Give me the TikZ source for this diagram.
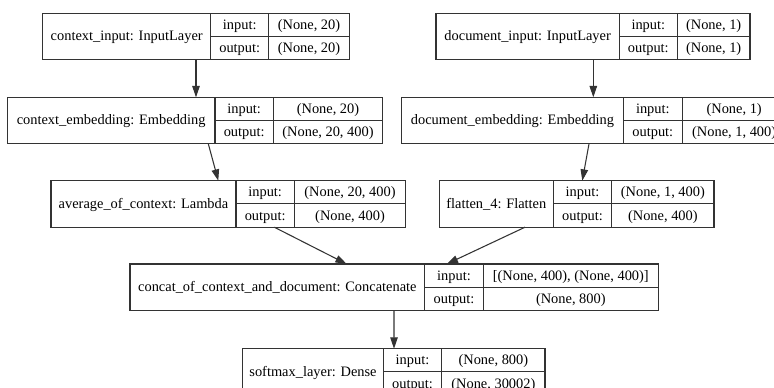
\documentclass[tikz,border=0pt]{standalone}
\usepackage{fontspec}
\setmainfont{Liberation Serif}
\newfontfamily\layerfont{Liberation Serif}
\usetikzlibrary{arrows.meta,calc,fit}

\tikzset{
  x=0.75pt, y=-0.75pt,
  rule/.style={draw=black!80, line width=0.8pt},
  frame/.style={rule, inner sep=0pt, outer sep=0pt},
  txt/.style={inner sep=0pt, anchor=base, text=black,
              font=\layerfont\fontsize{10.8}{13}\selectfont},
  arr/.style={rule, -{Triangle[length=8.5pt,width=5.6pt]}},
}

% record-shaped layer: name, left, first divider, second divider, right,
% top, layer label, input shape, output shape (box height is fixed)
\newcommand\layerbox[9]{%
  \coordinate (#1-nw) at (#2,#6);
  \coordinate (#1-se) at (#5,{#6+46.5});
  \node[frame, fit=(#1-nw)(#1-se)] (#1) {};
  \draw[rule] (#3,#6) -- (#3,{#6+46.5});
  \draw[rule] (#4,#6) -- (#4,{#6+46.5});
  \draw[rule] (#3,{#6+23.25}) -- (#5,{#6+23.25});
  \node[txt] (#1-label) at ({(#2+#3)/2},{#6+27.5}) {#7};
  \node[txt] (#1-inkey) at ({(#3+#4)/2},{#6+16.2}) {input:};
  \node[txt] (#1-inval) at ({(#4+#5)/2},{#6+16.2}) {#8};
  \node[txt] (#1-outkey) at ({(#3+#4)/2},{#6+39.3}) {output:};
  \node[txt] (#1-outval) at ({(#4+#5)/2},{#6+39.3}) {#9};
}

\begin{document}
\begin{tikzpicture}
\useasboundingbox (0,0) rectangle (774,387);
\fill[white] (0,0) rectangle (774,387);
\clip (0,0) rectangle (774,387);

\layerbox{ci}{42.7}{210.7}{268.7}{349.3}{13.3}{context\_input: InputLayer}{(None, 20)}{(None, 20)}
\layerbox{di}{436}{619.3}{677.3}{750}{13.3}{document\_input: InputLayer}{(None, 1)}{(None, 1)}
\layerbox{ce}{7.3}{215}{273.3}{382.7}{97.3}{context\_embedding: Embedding}{(None, 20)}{(None, 20, 400)}
\layerbox{de}{401.7}{623.3}{682.3}{786}{97.3}{document\_embedding: Embedding}{(None, 1)}{(None, 1, 400)}
\layerbox{avg}{51}{236}{294.3}{405.7}{180.7}{average\_of\_context: Lambda}{(None, 20, 400)}{(None, 400)}
\layerbox{fl}{439.3}{553.3}{611.7}{714}{180.7}{flatten\_4: Flatten}{(None, 1, 400)}{(None, 400)}
\layerbox{cat}{130}{424.7}{483.3}{658.3}{264}{concat\_of\_context\_and\_document: Concatenate}{[(None, 400), (None, 400)]}{(None, 800)}
\layerbox{sm}{242.7}{383.3}{441.7}{545}{348.7}{softmax\_layer: Dense}{(None, 800)}{(None, 30002)}

% data flow between layers
\draw[arr] ($(ci.south west)+(153.3,0)$) -- ($(ce.north west)+(188.7,0)$);
\draw[arr] ($(di.south west)+(157.3,0)$) -- ($(de.north west)+(191.6,0)$);
\draw[arr] ($(ce.south west)+(201,0)$) -- ($(avg.north west)+(167.3,0)$);
\draw[arr] ($(de.south west)+(187.3,0)$) -- ($(fl.north west)+(143,0)$);
\draw[arr] ($(avg.south west)+(223.3,0)$) -- ($(cat.north west)+(216.7,0)$);
\draw[arr] ($(fl.south west)+(85.7,0)$) -- ($(cat.north west)+(316.7,0)$);
\draw[arr] ($(cat.south west)+(264,0)$) -- ($(sm.north west)+(151.3,0)$);
\end{tikzpicture}
\end{document}
